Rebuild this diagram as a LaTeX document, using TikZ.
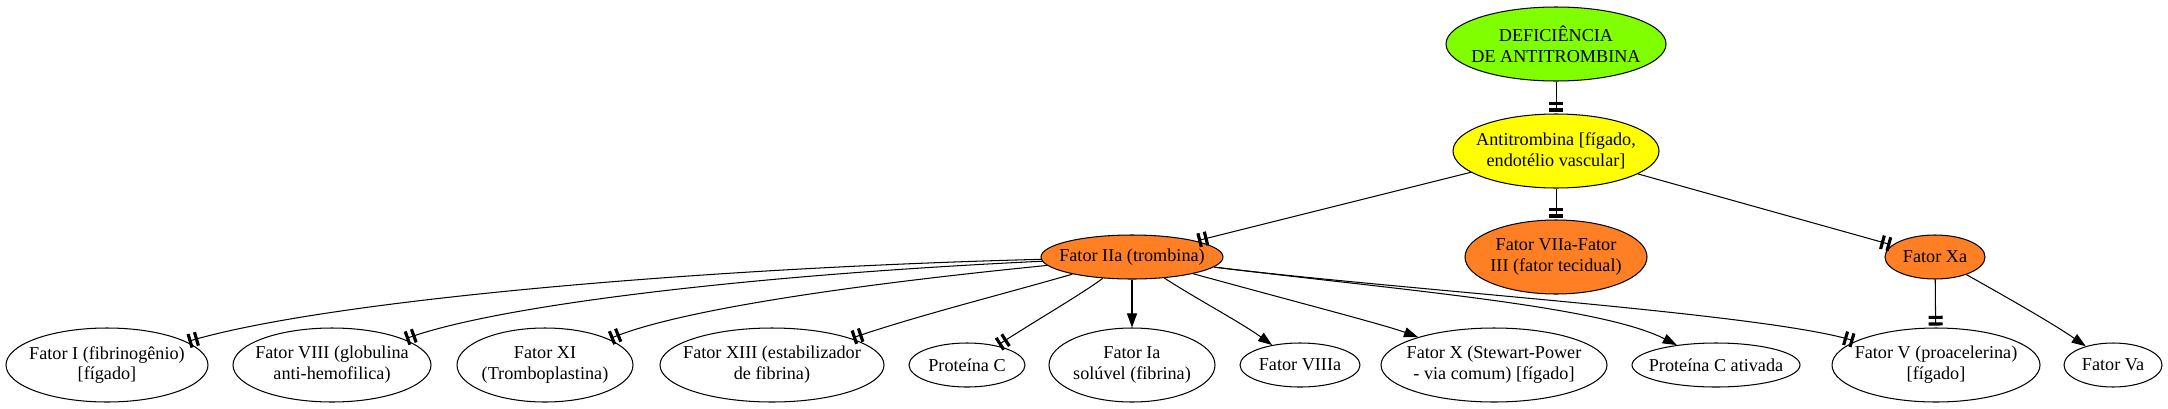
\documentclass[tikz,border=0pt]{standalone}
\usepackage{fontspec}
\setmainfont{Liberation Serif}
\usetikzlibrary{shapes.geometric,arrows.meta}
\definecolor{cgreen}{HTML}{7FFF00}
\definecolor{cyellow}{HTML}{FFFF00}
\definecolor{corange}{HTML}{FF7F24}
\begin{document}
\begin{tikzpicture}[x=0.77pt,y=-0.77pt,
  ell/.style 2 args={ellipse,draw,line width=0.8pt,inner sep=0pt,minimum width=#1*1.54pt,minimum height=#2*1.54pt},
  txt/.style={align=center,inner sep=0pt,font=\fontsize{14}{16}\selectfont},
  edge/.style={line width=0.8pt},
  tt/.style={edge,shorten >=1.5pt,-{Rectangle[length=2.4pt,width=10.8pt,sep=2.7pt]Rectangle[length=2.4pt,width=10.8pt]}},
  ar/.style={edge,-{Triangle[length=10.8pt,width=7.7pt]}}]
\useasboundingbox[fill=white] (0,0) rectangle (2168,408);

% nodes
\node[ell={110}{37},fill=cgreen] (DEF) at (1556,44) {};
\node[txt] (DEFt) at (DEF) {DEFICIÊNCIA\\DE ANTITROMBINA};
\node[ell={103}{37},fill=cyellow] (ANT) at (1556,151) {};
\node[txt] (ANTt) at (ANT) {Antitrombina [fígado,\\endotélio vascular]};
\node[ell={91}{22},fill=corange] (IIa) at (1132,257) {};
\node[txt] (IIat) at (IIa) {Fator IIa (trombina)};
\node[ell={91}{37},fill=corange] (VIIa) at (1556,257) {};
\node[txt] (VIIat) at (VIIa) {Fator VIIa-Fator\\III (fator tecidual)};
\node[ell={50}{22},fill=corange] (Xa) at (1935,257) {};
\node[txt] (Xat) at (Xa) {Fator Xa};

\node[ell={101}{37}] (FI) at (107,365) {};
\node[txt] (FIt) at (FI) {Fator I (fibrinogênio)\\\relax[fígado]};
\node[ell={99}{37}] (FVIII) at (332,365) {};
\node[txt] (FVIIIt) at (FVIII) {Fator VIII (globulina\\anti-hemofilica)};
\node[ell={88}{37}] (FXI) at (545,365) {};
\node[txt] (FXIt) at (FXI) {Fator XI\\(Tromboplastina)};
\node[ell={112}{37}] (FXIII) at (772,365) {};
\node[txt] (FXIIIt) at (FXIII) {Fator XIII (estabilizador\\de fibrina)};
\node[ell={58}{22}] (PC) at (967,365) {};
\node[txt] (PCt) at (PC) {Proteína C};
\node[ell={83}{37}] (FIa) at (1132,365) {};
\node[txt] (FIat) at (FIa) {Fator Ia\\solúvel (fibrina)};
\node[ell={60}{22}] (VIIIa) at (1300,365) {};
\node[txt] (VIIIat) at (VIIIa) {Fator VIIIa};
\node[ell={113}{37}] (FX) at (1494,365) {};
\node[txt] (FXt) at (FX) {Fator X (Stewart-Power\\- via comum) [fígado]};
\node[ell={84}{22}] (PCa) at (1716,365) {};
\node[txt] (PCat) at (PCa) {Proteína C ativada};
\node[ell={104}{37}] (FV) at (1936,365) {};
\node[txt] (FVt) at (FV) {Fator V (proacelerina)\\\relax[fígado]};
\node[ell={49}{22}] (Va) at (2113,365) {};
\node[txt] (Vat) at (Va) {Fator Va};

% edges
\draw[tt] (DEF) -- (ANT);
\draw[tt] (ANT) -- (IIa);
\draw[tt] (ANT) -- (VIIa);
\draw[tt] (ANT) -- (Xa);

\draw[tt] (IIa) .. controls (700,268) and (330,300) .. (FI);
\draw[tt] (IIa) .. controls (750,275) and (500,305) .. (FVIII);
\draw[tt] (IIa) .. controls (850,285) and (680,310) .. (FXI);
\draw[tt] (IIa) .. controls (1000,295) and (920,315) .. (FXIII);
\draw[tt] (IIa) .. controls (1080,295) and (1040,318) .. (PC);
\draw[ar] (IIa) -- (FIa);
\draw[ar] (IIa) .. controls (1195,298) and (1240,322) .. (VIIIa);
\draw[ar] (IIa) .. controls (1300,303) and (1385,325) .. (FX);
\draw[ar] (IIa) .. controls (1400,290) and (1600,306) .. (PCa);
\draw[tt] (IIa) .. controls (1400,290) and (1760,313) .. (FV);

\draw[tt] (Xa) -- (FV);
\draw[ar] (Xa) .. controls (2008,298) and (2052,323) .. (Va);
\end{tikzpicture}
\end{document}
